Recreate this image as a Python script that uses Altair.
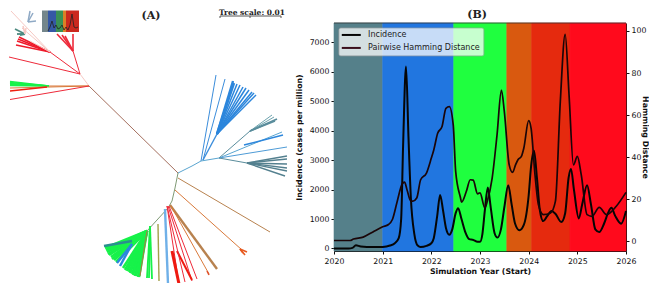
import altair as alt
import pandas as pd

# ---------- panel B values ----------
band_start = [2020, 2021, 2022.46, 2023.55, 2024.06, 2024.85]
band_end = [2021, 2022.46, 2023.55, 2024.06, 2024.85, 2026]
band_color = ["#55808a", "#2176e0", "#1fff3f", "#d9590f", "#e52a0e", "#ff0a1c"]

inc_year = [2020, 2020.3, 2020.38, 2020.45, 2020.55, 2020.8, 2021, 2021.15, 2021.25, 2021.33, 2021.38, 2021.42,
            2021.48, 2021.53, 2021.58, 2021.65, 2021.72, 2021.78, 2021.9, 2022, 2022.05, 2022.12, 2022.18, 2022.24,
            2022.3, 2022.37, 2022.43, 2022.5, 2022.55, 2022.62, 2022.7, 2022.78, 2022.85, 2022.95, 2023, 2023.05,
            2023.1, 2023.16, 2023.22, 2023.3, 2023.36, 2023.43, 2023.5, 2023.58, 2023.65, 2023.72, 2023.81, 2023.9,
            2024, 2024.05, 2024.11, 2024.17, 2024.23, 2024.3, 2024.38, 2024.47, 2024.55, 2024.67, 2024.75, 2024.82,
            2024.87, 2024.93, 2025.03, 2025.1, 2025.2, 2025.28, 2025.37, 2025.45, 2025.55, 2025.63, 2025.7, 2025.78,
            2025.9, 2026]
inc_value = [0, 0, 20, 110, 70, 50, 55, 100, 180, 350, 1000, 3500,
             6180, 3800, 1700, 500, 100, 50, 90, 180, 350, 1100, 1820, 1300,
             700, 470, 650, 1200, 1370, 1000, 550, 320, 300, 230, 230, 500,
             1300, 2070, 1400, 520, 370, 650, 1400, 2150, 1500, 850, 620, 800,
             1800, 2800, 3320, 2400, 1300, 930, 1100, 1270, 1180, 900, 1200, 2400,
             2700, 2000, 1020, 1500, 2150, 1500, 650, 560, 850, 1200, 1380, 1100,
             840, 1270]

ham_year = [2020, 2020.33, 2020.4, 2020.6, 2020.8, 2021, 2021.12, 2021.2, 2021.3, 2021.4, 2021.45, 2021.5, 2021.58,
            2021.62, 2021.7, 2021.78, 2021.9, 2022, 2022.05, 2022.13, 2022.22, 2022.3, 2022.37, 2022.45, 2022.5,
            2022.6, 2022.62, 2022.72, 2022.8, 2022.86, 2022.95, 2023, 2023.1, 2023.15, 2023.25, 2023.35, 2023.44,
            2023.5, 2023.6, 2023.67, 2023.73, 2023.78, 2023.85, 2023.9, 2024, 2024.05, 2024.13, 2024.2, 2024.3,
            2024.45, 2024.55, 2024.65, 2024.75, 2024.83, 2024.92, 2025, 2025.08, 2025.2, 2025.3, 2025.45, 2025.6,
            2025.8, 2026]
ham_value = [0.3, 0.3, 1, 1.9, 4.4, 6.8, 7.9, 10.3, 19, 27.2, 28.1, 24.5, 19,
             19, 20.5, 29.2, 32.4, 39.5, 43.4, 51.3, 54.5, 63.2, 64, 55.3, 33.2,
             20.5, 18.5, 23.7, 29.2, 29, 22.5, 23, 15.8, 19, 30, 50.6, 71.9,
             61.6, 36.3, 32.7, 36.3, 38.7, 40.3, 44.2, 57.3, 53.7, 31.6, 17.4, 12.6,
             13.4, 19, 66.4, 98.4, 69.5, 36.3, 40.3, 31.6, 12.6, 11.8, 16.1, 12.6,
             16.6, 23.2]

# ---------- panel A values: tree drawn in its own plain x/y space ----------
C_RED, C_PINK, C_BROWN, C_SKY, C_BLUE, C_TEAL = "#ee2a3a", "#f6c9c4", "#a5705f", "#5aa5d0", "#2c86dc", "#5a8d9c"
C_GREEN, C_ORANGE, C_TAN, C_OLIVE = "#17f24a", "#d9793a", "#b8824f", "#7f9a75"

# node x, node y, tips, colour, width
tree_fans = [
    ((87, 85), [(176, 172)], C_BROWN, 1.0),
    ((87, 85), [(78, 73)], C_PINK, 1.0),
    ((78, 73), [(7, 56)], C_RED, 1.0),
    ((78, 73), [(71, 50)], C_RED, 1.0),
    ((71, 50), [(55, 33), (60, 34), (63, 35), (71, 33)], C_RED, 1.6),
    ((78, 73), [(48, 51)], C_RED, 1.0),
    ((48, 51), [(17, 36), (16, 38), (15, 40), (14, 44)], "#ee1a2a", 1.6),
    ((48, 51), [(28, 40), (20, 27), (9, 10)], C_PINK, 1.0),
    ((26, 21), [(28, 10), (31, 12), (34, 20)], "#8fa9c5", 1.5),
    ((23, 33), [(13, 28), (15, 33), (18, 34)], "#4d8a80", 1.8),
    ((23, 33), [(21, 25), (24, 27)], C_PINK, 1.5),
    ((87, 85), [(47, 85)], C_ORANGE, 1.0),
    ((47, 85), [(8, 80.5), (8, 81.5), (8, 82.5), (8, 83.5), (8, 84.5)], C_GREEN, 1.3),
    ((87, 85), [(8, 87)], C_ORANGE, 1.0),
    ((45, 86), [(8, 90)], "#ee2010", 1.6),
    ((87, 85), [(8, 98.5)], C_RED, 1.0),
    # blue clade
    ((176, 172), [(190, 165)], C_SKY, 1.0),
    ((190, 165), [(199, 160)], C_SKY, 1.0),
    ((199, 160), [(214, 74)], "#3b8ddb", 1.0),
    ((201, 159), [(223, 78)], "#3b8ddb", 1.0),
    ((201, 159), [(215, 133)], "#3b8ddb", 1.4),
    ((215, 133), [(231, 80), (232, 82)], C_BLUE, 2.4),
    ((215, 133), [(235, 83), (238, 84), (241, 86), (244, 87), (247, 89), (250, 91), (252, 92), (254, 94)],
     C_BLUE, 1.5),
    ((199, 160), [(217, 157)], C_SKY, 1.0),
    ((217, 157), [(248, 130)], C_TEAL, 1.0),
    ((248, 130), [(270, 114), (272, 116)], "#6ea3ae", 1.0),
    ((248, 130), [(275, 118), (273, 120)], "#5a8d9c", 1.7),
    ((217, 157), [(280, 131)], C_SKY, 1.0),
    ((242, 144), [(281, 134)], C_BLUE, 1.4),
    ((217, 157), [(285, 146)], "#4e9bd6", 1.0),
    ((217, 157), [(245, 162)], C_TEAL, 1.0),
    ((245, 162), [(285, 155), (285, 158), (285, 163), (285, 167), (285, 170), (283, 175)], "#54808f", 1.4),
    # lower clade backbone
    ((176, 172), [(173, 187)], C_OLIVE, 1.0),
    ((173, 187), [(170, 200)], C_OLIVE, 1.0),
    ((170, 200), [(166, 207)], C_OLIVE, 1.0),
    ((166, 207), [(155, 219)], C_OLIVE, 1.0),
    ((155, 219), [(145, 230)], C_OLIVE, 1.0),
    ((176, 177), [(268, 231)], C_TAN, 1.0),
    ((173, 189), [(240, 249)], C_ORANGE, 1.0),
    ((238, 248), [(243, 254), (245, 251), (241, 252)], "#e85a20", 1.6),
    ((168, 204), [(215, 268)], C_TAN, 2.4),
    ((169, 205), [(207, 273)], C_ORANGE, 1.0),
    ((205, 270), [(207, 274)], "#e0502a", 1.6),
    ((167, 205), [(195, 278)], C_RED, 1.0),
    ((166, 205), [(190, 280)], C_RED, 1.0),
    ((175, 250), [(190, 279)], "#ee1a10", 2.0),
    ((165, 205), [(183, 281), (177, 283)], C_RED, 1.0),
    ((170, 250), [(177, 283)], "#ee1a10", 3.0),
    ((163, 208), [(166, 283)], "#6fb0e8", 2.4),
    ((156, 223), [(157, 280)], "#a2a04a", 1.4),
    ((148, 225), [(145, 277), (147, 277), (150, 278)], C_GREEN, 1.8),
    ((145, 230), [(103, 247), (104, 249), (105, 251), (106, 253), (107, 254), (109, 256), (110, 258), (112, 259),
                  (114, 261), (121, 267), (123, 269), (125, 270), (127, 271), (128, 272), (130, 273), (131, 274),
                  (133, 275), (134, 275), (136, 276), (137, 276)], C_GREEN, 2.6),
    ((130, 240), [(102, 245)], "#2a8f8f", 2.6),
    ((130, 243), [(115, 262), (118, 265)], "#2c86dc", 2.4),
    ((145, 230), [(138, 275)], "#a08040", 1.1),
]

inset_start = [40, 46, 54, 61, 64]
inset_end = [46, 54, 61, 64, 77]
inset_color = ["#6d7f85", "#2a4fa0", "#2f8a4c", "#d9791a", "#c81e12"]
inset_line_x = [46, 48, 50, 52, 54, 56, 58, 60, 62, 64, 66, 68, 70, 72, 74, 76]
inset_line_y = [30, 26, 20, 27, 24, 28, 27, 24, 29, 26, 29, 24, 13, 26, 27, 26]

title_a = "(A)"
title_b = "(B)"
scale_text = "Tree scale: 0.01"
legend_names = ["Incidence", "Pairwise Hamming Distance"]

# ---------- tables ----------
rows = []
for (nx, ny), tips, col, w in tree_fans:
    for tx, ty in tips:
        rows.append(dict(x=nx, y=ny, x2=tx, y2=ty, c=col, w=w))
tree_df = pd.DataFrame(rows)
inset_df = pd.DataFrame(dict(x=inset_start, x2=inset_end, c=inset_color))
inset_line_df = pd.DataFrame(dict(x=inset_line_x, y=inset_line_y))

TX = alt.Scale(domain=[8, 290], nice=False, zero=False)
TY = alt.Scale(domain=[22, 250], nice=False, zero=False, reverse=True)
tx = lambda f="x": alt.X(f"{f}:Q", scale=TX, axis=None)
ty = lambda f="y": alt.Y(f"{f}:Q", scale=TY, axis=None)

tree_lines = alt.Chart(tree_df).mark_rule(clip=False).encode(
    x=tx(), y=ty(), x2="x2:Q", y2="y2:Q",
    color=alt.Color("c:N", scale=None), strokeWidth=alt.StrokeWidth("w:Q", scale=None))
inset_rect = alt.Chart(inset_df.assign(y=9.5, y2=31)).mark_rect(clip=False, opacity=0.95).encode(
    x=tx(), x2="x2:Q", y=ty(), y2="y2:Q", color=alt.Color("c:N", scale=None))
inset_line = alt.Chart(inset_line_df).mark_line(clip=False, color="#222222", strokeWidth=0.8).encode(x=tx(), y=ty())
scale_rule = alt.Chart(pd.DataFrame(dict(x=[218], x2=[279], y=[15]))).mark_rule(color="#555555", clip=False).encode(
    x=tx(), x2="x2:Q", y=ty())
scale_ticks = alt.Chart(pd.DataFrame(dict(x=[218, 248, 279], y=[15, 15, 15], y2=[17, 17, 17]))).mark_rule(
    color="#555555", clip=False).encode(x=tx(), y=ty(), y2="y2:Q")
serif = "DejaVu Serif"
a_text = alt.Chart(pd.DataFrame(dict(x=[149], y=[14.5], t=[title_a]))).mark_text(
    font=serif, fontWeight="bold", fontSize=11, color="#222222", clip=False).encode(x=tx(), y=ty(), text="t:N")
s_text = alt.Chart(pd.DataFrame(dict(x=[250], y=[12], t=[scale_text]))).mark_text(
    font=serif, fontWeight="bold", fontSize=7.5, color="#222222", clip=False).encode(x=tx(), y=ty(), text="t:N")
panel_a = alt.layer(tree_lines, inset_rect, inset_line, scale_rule, scale_ticks, a_text, s_text).properties(
    width=282, height=228)

# panel B
XS = alt.Scale(domain=[2020, 2026], nice=False, zero=False)
LS = alt.Scale(domain=[-85, 7660], nice=False, zero=False)
RS = alt.Scale(domain=[-4.7, 103.8], nice=False, zero=False)
FONT = "DejaVu Sans"
common = dict(grid=False, labelFont=FONT, labelFontSize=7.8, labelColor="#111111", titleFont=FONT, titleFontSize=7.8,
              titleFontWeight="bold", titleColor="#111111", tickColor="#111111", domainColor="#111111", tickSize=3,
              labelFlush=False, labelOverlap=False, format="d")
x_axis = alt.Axis(values=[2020, 2021, 2022, 2023, 2024, 2025, 2026], title="Simulation Year (Start)",
                  labelPadding=3, titlePadding=3, **common)
l_axis = alt.Axis(values=list(range(0, 8000, 1000)), title="Incidence (cases per million)", orient="left",
                  labelPadding=2, titlePadding=6, **common)
r_axis = alt.Axis(values=[0, 20, 40, 60, 80, 100], title="Hamming Distance", orient="right",
                  labelPadding=2, titlePadding=-5, **common)
X = lambda f: alt.X(f, scale=XS, axis=x_axis)
YL = lambda f: alt.Y(f, scale=LS, axis=l_axis)

bands = alt.Chart(pd.DataFrame(dict(s=band_start, e=band_end, c=band_color))).mark_rect(strokeWidth=0.6).encode(
    x=X("s:Q"), x2="e:Q", color=alt.Color("c:N", scale=None), stroke=alt.Stroke("c:N", scale=None))
top_edge = alt.Chart(pd.DataFrame(dict(a=[2020], b=[2026], v=[7660]))).mark_rule(color="#333333", strokeWidth=0.8).encode(
    x=X("a:Q"), x2="b:Q", y=YL("v:Q"))
inc_line = alt.Chart(pd.DataFrame(dict(t=inc_year, v=inc_value))).mark_line(
    color="#050505", strokeWidth=2, interpolate="monotone").encode(x=X("t:Q"), y=YL("v:Q"))
ham_line = alt.Chart(pd.DataFrame(dict(t=ham_year, v=ham_value))).mark_line(
    color="#1a0508", strokeWidth=1.7, interpolate="monotone").encode(
    x=X("t:Q"), y=alt.Y("v:Q", scale=RS, axis=r_axis))

legend_box = alt.Chart(pd.DataFrame(dict(a=[2020.10], b=[2023.08], c=[7493], d=[6541]))).mark_rect(
    fill="white", opacity=0.75, stroke="#999999", strokeWidth=0.8, cornerRadius=2).encode(
    x=X("a:Q"), x2="b:Q", y=YL("c:Q"), y2="d:Q")
leg_df = pd.DataFrame(dict(a=[2020.16, 2020.16], b=[2020.55, 2020.55], v=[7254, 6813], c=["#050505", "#3a0f1c"],
                           tx=[2020.70, 2020.70], n=legend_names))
leg_rules = alt.Chart(leg_df).mark_rule(strokeWidth=2).encode(
    x=X("a:Q"), x2="b:Q", y=YL("v:Q"), color=alt.Color("c:N", scale=None))
leg_text = alt.Chart(leg_df).mark_text(align="left", font=FONT, fontSize=8, color="#222222").encode(
    x=X("tx:Q"), y=YL("v:Q"), text="n:N")
b_text = alt.Chart(pd.DataFrame(dict(x=[2022.94], y=[7934], t=[title_b]))).mark_text(
    font=serif, fontWeight="bold", fontSize=11, color="#222222", clip=False).encode(
    x=X("x:Q"), y=YL("y:Q"), text="t:N")

left_group = alt.layer(bands, top_edge, inc_line, legend_box, leg_rules, leg_text, b_text)
panel_b = alt.layer(left_group, ham_line).resolve_scale(y="independent").properties(width=292, height=228)

chart = alt.hconcat(panel_a, panel_b, spacing=3, padding=0).configure_view(stroke=None).configure_concat(spacing=3)
chart.save("out.html", embed_options={"renderer": "svg", "actions": False})
